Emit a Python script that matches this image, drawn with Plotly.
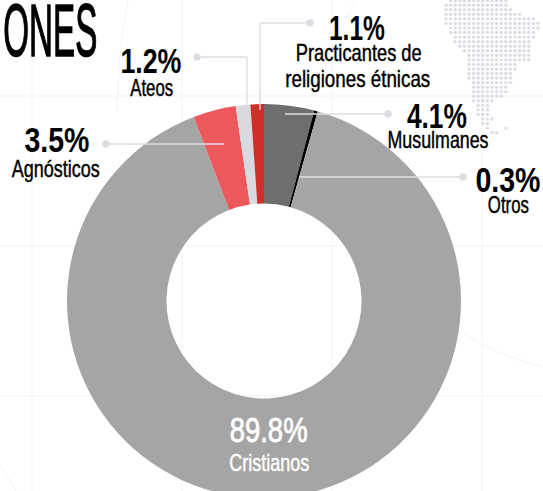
import json
import plotly.graph_objects as go

categories = ["Musulmanes", "Otros", "Cristianos", "Agnósticos", "Ateos", "Practicantes de religiones étnicas"]
values = [4.1, 0.3, 89.8, 3.5, 1.2, 1.1]
colors = ["#6e6e6e", "#000000", "#a5a5a5", "#ec585c", "#d9d9e0", "#cf2f2a"]

# decorative dotted map: first and last column of each row
map_first = [1, 0, 0, 0, 0, 0, 1, 1, 2, 2, 3, 4, 5, 5, 5, 5, 5, 5, 6, 6, 6, 6, 6, 7, 7, 7, 8, 8, 9, 10]
map_last = [13, 13, 14, 16, 19, 20, 20, 19, 19, 18, 18, 18, 18, 18, 15, 15, 14, 14, 14, 13, 13, 12, 10, 9, 9, 9, 10, 9, 9, 11]
map_extra = [(28, 13)]

W, H = 543, 511
FONT = "Liberation Sans"
LINE = "#dcdce3"
GRID = "#f3f3f6"

def px(x): return x / W
def py(y): return 1 - y / H

fig = go.Figure(go.Pie(
    labels=categories, values=values, hole=0.495, sort=False, direction="clockwise", rotation=0,
    marker=dict(colors=colors, line=dict(width=0)), textinfo="none", hoverinfo="label+percent", showlegend=False,
    domain=dict(x=[(264 - 197) / W, (264 + 197) / W], y=[py(498), py(104)]),
))

cells = [(r, c) for r, (a, b) in enumerate(zip(map_first, map_last)) for c in range(a, b + 1)] + map_extra
fig.add_trace(go.Scatter(x=[446 + 4.6 * c for r, c in cells], y=[0.7 + 4.55 * r for r, c in cells], mode="markers",
                         marker=dict(color=LINE, size=3.4, line=dict(width=0)), hoverinfo="skip", showlegend=False))

shapes = []
def seg(pts):
    for (x0, y0), (x1, y1) in zip(pts, pts[1:]):
        shapes.append(dict(type="line", xref="paper", yref="paper", x0=px(x0), x1=px(x1), y0=py(y0), y1=py(y1),
                           line=dict(color=LINE, width=1.3), layer="above"))
def dot(x, y, r=3.7):
    shapes.append(dict(type="circle", xref="paper", yref="paper", x0=px(x - r), x1=px(x + r), y0=py(y - r), y1=py(y + r),
                       fillcolor=LINE, line=dict(width=0), layer="above"))

seg([(224, 144), (106, 144)]); dot(106, 144)
seg([(247, 105), (247, 57), (197, 57)]); dot(197, 57)
seg([(260, 110), (260, 23), (310, 23)]); dot(310, 23)
seg([(285, 114), (388, 114)]); dot(388, 114)
seg([(299, 177), (463, 177)]); dot(463, 177)

# faint background grid and arcs
for x0, y0, x1, y1 in [(0, 96, 543, 96), (0, 246, 543, 246), (0, 396, 543, 396),
                       (32, 0, 32, 491), (182, 0, 182, 491), (332, 0, 332, 491), (482, 0, 482, 491)]:
    shapes.append(dict(type="line", xref="paper", yref="paper", x0=px(x0), x1=px(x1), y0=py(y0), y1=py(y1),
                       line=dict(color=GRID, width=1), layer="below"))
for a, c, b in [((458, 330), (495, 355), (543, 367)), ((0, 465), (8, 477), (16, 491)),
                ((128, 0), (118, 50), (117, 110)), ((355, 0), (343, 25), (332, 50))]:
    path = f"M {px(a[0])} {py(a[1])} Q {px(c[0])} {py(c[1])} {px(b[0])} {py(b[1])}"
    shapes.append(dict(type="path", xref="paper", yref="paper", path=path, line=dict(color=GRID, width=1), layer="below"))

ann = []
widths = []
strokes = []
def text(s, x, y, size, width, color="#000000", weight="bold", stroke=0):
    ann.append(dict(text=s, xref="paper", yref="paper", x=px(x), y=py(y), showarrow=False,
                    xanchor="center", yanchor="middle", font=dict(family=FONT, size=size, color=color, weight=weight)))
    widths.append(width)
    strokes.append(stroke)

LBL = dict(weight="normal", stroke=0.45)
text("ONES", 50, 30, 75, 94, weight="normal", stroke=1.5)
text("1.2%", 150.5, 60, 35, 61); text("Ateos", 151.5, 87, 24, 43, **LBL)
text("3.5%", 57.5, 139, 35, 65); text("Agnósticos", 55, 169, 24, 88, **LBL)
text("1.1%", 357, 27, 35, 56); text("Practicantes de", 358, 52, 24, 126, **LBL)
text("religiones étnicas", 357.5, 78, 24, 145, **LBL)
text("4.1%", 437, 115, 35, 60); text("Musulmanes", 437.5, 139.5, 24, 101, **LBL)
text("0.3%", 507.5, 179, 35, 65); text("Otros", 508.5, 204, 24, 41, **LBL)
text("89.8%", 268, 429, 35, 78, color="#ffffff", weight="normal", stroke=0.8)
text("Cristianos", 269, 462, 24, 80, color="#ffffff", **LBL)

axis = dict(visible=False, fixedrange=True)
fig.update_layout(width=W, height=H, margin=dict(l=0, r=0, t=0, b=0), paper_bgcolor="#ffffff", plot_bgcolor="rgba(0,0,0,0)",
                  shapes=shapes, annotations=ann,
                  xaxis=dict(range=[0, W], domain=[0, 1], **axis), yaxis=dict(range=[H, 0], domain=[0, 1], **axis))

post = """
document.body.style.margin='0';document.body.style.overflow='hidden';
document.documentElement.style.overflow='hidden';
var w=%s, s=%s;
document.querySelectorAll('.annotation-text').forEach(function(t,i){
  t.setAttribute('textLength',w[i]);t.setAttribute('lengthAdjust','spacingAndGlyphs');
  if(s[i]>0){t.style.stroke=t.style.fill;t.style.strokeWidth=s[i]+'px';}
});
""" % (json.dumps(widths), json.dumps(strokes))
fig.write_html("out.html", config={"displayModeBar": False}, post_script=post)
